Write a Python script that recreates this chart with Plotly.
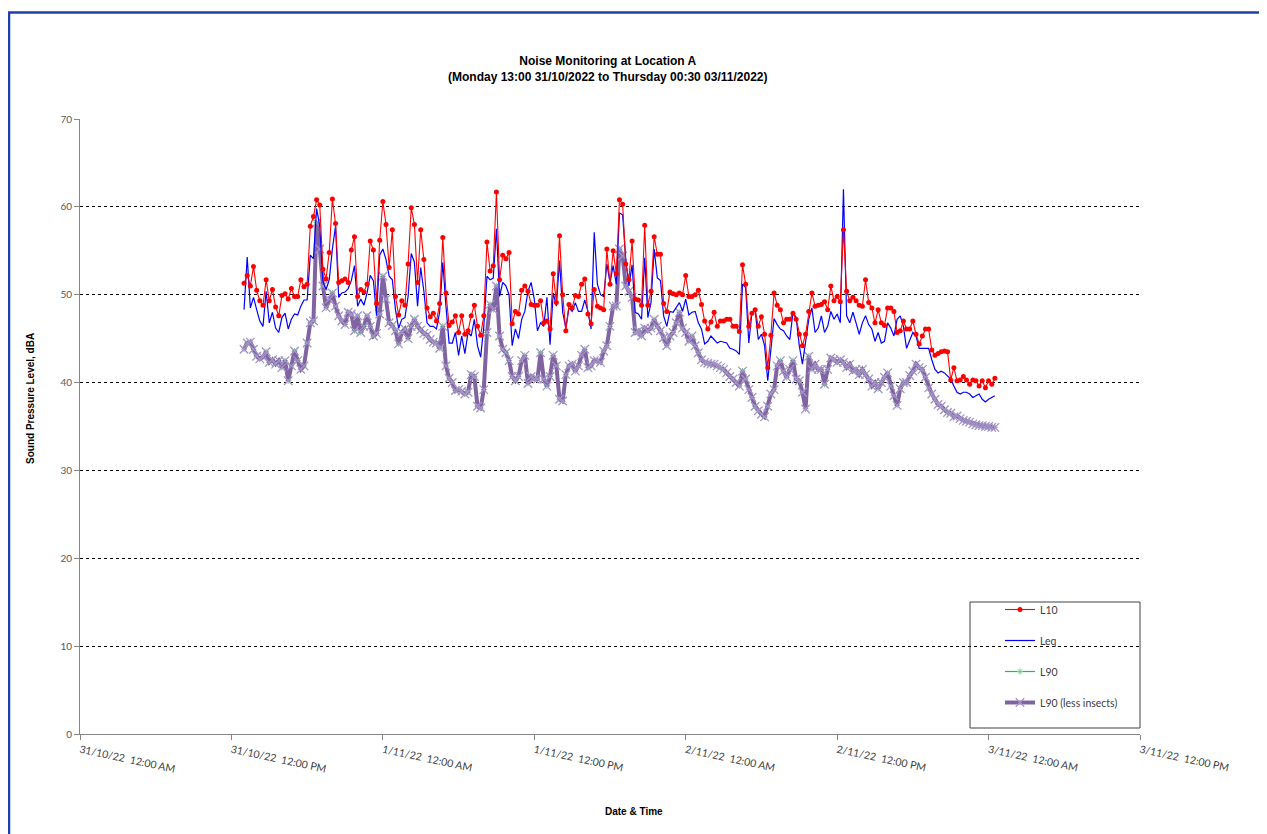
import pandas as pd
import plotly.graph_objects as go

# ---------------- data (15-minute intervals, 31/10/2022 13:00 -> 03/11/2022 00:30) ----------------
start_time = "2022-10-31 13:00"
interval = "15min"

L10 = [
    51.3, 52.2, 51.0, 53.2, 50.5, 49.3, 48.8, 51.7, 49.3, 50.6,
    48.6, 47.6, 49.9, 50.1, 49.5, 50.7, 49.8, 49.8, 51.7, 50.9,
    51.2, 57.8, 58.9, 60.8, 60.2, 52.9, 51.8, 54.8, 60.9, 58.1,
    51.4, 51.6, 51.8, 51.4, 55.1, 56.6, 49.8, 50.6, 50.3, 51.2,
    56.1, 55.1, 49.0, 56.2, 60.6, 58.0, 53.1, 57.4, 49.8, 47.7,
    49.3, 48.8, 53.5, 59.9, 58.0, 51.4, 57.4, 54.0, 48.5, 47.5,
    47.9, 47.0, 49.0, 56.5, 50.2, 46.5, 46.9, 47.6, 45.7, 47.6,
    45.5, 45.9, 47.6, 48.8, 46.4, 45.4, 47.6, 56.0, 52.7, 53.3,
    61.7, 51.7, 54.5, 54.1, 54.8, 46.7, 48.1, 47.8, 50.5, 51.0,
    50.4, 48.9, 48.8, 48.8, 49.3, 46.8, 47.0, 46.1, 52.4, 49.1,
    56.7, 50.0, 45.9, 48.9, 48.5, 49.9, 49.8, 51.2, 51.8, 47.8,
    46.7, 50.6, 48.7, 48.5, 48.3, 55.2, 51.2, 55.0, 52.4, 60.8,
    60.3, 53.5, 51.7, 56.1, 49.5, 49.4, 48.8, 57.9, 48.8, 50.4,
    56.6, 54.6, 54.6, 49.0, 48.1, 50.3, 50.1, 50.0, 50.2, 50.0,
    52.2, 49.8, 49.8, 50.0, 50.5, 48.9, 47.0, 46.1, 46.9, 48.0,
    46.4, 47.0, 47.0, 47.2, 47.2, 46.4, 46.4, 45.8, 53.4, 51.2,
    46.4, 47.9, 48.3, 46.4, 47.5, 45.5, 41.7, 45.4, 50.2, 48.8,
    48.3, 46.8, 47.2, 47.2, 47.9, 47.2, 45.5, 44.2, 45.5, 48.1,
    50.2, 48.7, 48.8, 48.9, 49.2, 48.3, 51.0, 49.3, 49.8, 49.2,
    57.4, 50.4, 49.3, 49.7, 49.3, 48.8, 48.7, 51.7, 49.1, 48.5,
    46.8, 48.3, 46.8, 46.5, 48.5, 48.5, 48.1, 45.7, 45.9, 47.0,
    46.1, 46.1, 47.0, 45.5, 44.4, 45.3, 46.1, 46.1, 43.7, 43.1,
    43.3, 43.5, 43.6, 43.5, 40.3, 41.7, 40.2, 40.3, 40.7, 40.3,
    39.8, 40.3, 40.2, 39.6, 40.2, 39.4, 40.2, 39.8, 40.5,
]

Leq = [
    48.3, 54.3, 48.5, 49.7, 48.3, 47.0, 46.4, 50.4, 46.8, 48.0,
    46.2, 45.7, 47.4, 47.9, 46.1, 47.2, 47.8, 47.7, 48.7, 49.4,
    49.4, 54.5, 54.1, 59.8, 57.8, 51.5, 50.6, 51.7, 55.2, 57.8,
    49.7, 50.2, 50.3, 50.7, 51.6, 53.3, 48.7, 49.5, 48.8, 50.2,
    52.2, 51.6, 47.6, 54.5, 55.2, 54.0, 52.1, 51.7, 48.3, 46.2,
    47.2, 47.4, 49.8, 54.7, 53.7, 48.7, 53.1, 50.4, 46.8, 46.4,
    46.4, 46.1, 48.0, 53.7, 48.7, 44.5, 44.5, 45.7, 43.1, 45.3,
    43.3, 45.7, 45.3, 47.2, 44.2, 42.9, 46.4, 52.1, 51.7, 51.9,
    57.5, 49.8, 51.4, 51.0, 50.0, 44.2, 46.1, 45.0, 47.2, 48.1,
    50.4, 51.4, 49.5, 45.9, 46.8, 46.4, 49.7, 44.3, 50.2, 48.7,
    53.9, 48.0, 46.2, 48.5, 48.1, 49.1, 48.1, 48.1, 49.4, 48.1,
    46.1, 57.1, 51.2, 50.0, 49.8, 53.5, 51.4, 53.3, 51.2, 59.3,
    59.1, 54.0, 51.0, 53.4, 48.0, 47.8, 47.2, 54.2, 47.4, 49.1,
    55.2, 51.9, 51.6, 47.6, 46.4, 48.1, 48.0, 48.5, 49.1, 48.1,
    49.5, 47.7, 48.0, 48.1, 46.8, 46.1, 44.4, 44.7, 45.3, 44.9,
    44.5, 44.7, 44.6, 44.5, 43.9, 43.8, 43.6, 43.2, 51.2, 50.8,
    44.5, 48.0, 48.3, 44.9, 45.5, 44.2, 40.2, 44.2, 47.3, 46.6,
    46.1, 45.9, 45.3, 44.9, 48.0, 47.4, 44.2, 42.1, 44.5, 47.2,
    48.5, 45.7, 46.2, 47.6, 45.7, 46.4, 48.1, 47.2, 47.8, 46.8,
    62.0, 47.6, 46.8, 48.0, 46.8, 45.5, 46.8, 47.6, 46.6, 46.1,
    44.7, 45.7, 44.5, 44.7, 46.8, 46.2, 45.3, 47.2, 47.6, 46.4,
    43.9, 44.9, 45.7, 45.3, 43.9, 43.9, 43.9, 43.9, 42.6, 41.5,
    41.1, 41.3, 41.1, 40.7, 40.4, 39.6, 38.9, 38.7, 38.9, 38.9,
    38.7, 38.3, 38.5, 38.7, 38.1, 37.8, 38.1, 38.3, 38.5,
]

L90_less_insects = [
    43.8, 44.5, 44.6, 43.8, 43.0, 42.7, 42.9, 43.5, 42.3, 42.6,
    42.1, 42.5, 41.7, 42.5, 40.2, 41.9, 43.6, 42.5, 41.5, 41.9,
    44.5, 46.8, 47.0, 58.2, 55.2, 51.0, 48.5, 49.5, 50.2, 48.7,
    47.6, 47.0, 46.6, 48.0, 47.8, 45.9, 47.6, 45.7, 46.4, 47.6,
    46.4, 45.3, 45.6, 47.8, 52.1, 49.5, 46.8, 46.5, 45.9, 44.4,
    45.7, 46.1, 45.0, 46.4, 47.2, 46.4, 46.0, 45.6, 45.4, 44.9,
    44.6, 44.5, 43.9, 46.4, 41.9, 40.5, 40.0, 39.1, 39.2, 39.0,
    38.7, 38.9, 40.9, 40.7, 37.3, 37.1, 39.2, 45.7, 48.9, 48.3,
    51.0, 45.3, 43.8, 43.4, 42.5, 40.7, 40.2, 40.7, 42.5, 43.1,
    39.9, 40.7, 40.4, 40.4, 43.4, 40.4, 39.6, 40.7, 43.1, 41.9,
    38.1, 37.9, 40.9, 41.9, 42.1, 41.3, 41.9, 43.1, 43.8, 41.7,
    41.9, 42.5, 42.5, 42.3, 43.6, 44.2, 46.4, 48.7, 48.7, 55.2,
    54.4, 51.0, 50.4, 49.7, 45.7, 45.9, 45.3, 46.2, 45.9, 46.2,
    47.2, 46.4, 45.9, 45.1, 44.2, 45.3, 45.7, 46.8, 48.0, 46.2,
    45.7, 44.7, 45.3, 44.2, 43.4, 42.6, 42.3, 42.2, 42.1, 42.1,
    41.9, 41.7, 41.5, 41.1, 40.7, 40.4, 40.0, 39.6, 41.3, 40.4,
    39.2, 38.3, 37.3, 36.8, 36.4, 36.1, 37.3, 38.7, 39.2, 41.9,
    42.5, 41.3, 40.6, 41.5, 42.5, 40.4, 40.2, 38.9, 37.0, 43.0,
    41.5, 42.1, 41.5, 41.5, 39.8, 41.5, 42.8, 42.6, 42.3, 42.6,
    42.3, 41.7, 42.1, 41.3, 41.5, 40.9, 41.5, 40.9, 40.4, 39.6,
    40.0, 39.3, 40.0, 40.6, 41.1, 39.6, 38.5, 37.4, 39.3, 40.0,
    40.0, 40.8, 41.3, 42.1, 41.7, 41.5, 40.6, 39.4, 38.7, 38.1,
    37.5, 37.3, 36.9, 36.6, 36.5, 36.1, 36.2, 35.9, 35.7, 35.6,
    35.5, 35.3, 35.2, 35.1, 35.1, 35.0, 35.0, 34.9, 34.9,
]

# L90 (with insects) coincides with the "less insects" series over this period
L90 = list(L90_less_insects)

tick_times = [
    "2022-10-31 00:00", "2022-10-31 12:00", "2022-11-01 00:00", "2022-11-01 12:00",
    "2022-11-02 00:00", "2022-11-02 12:00", "2022-11-03 00:00", "2022-11-03 12:00",
]
tick_labels = [
    "31/10/22\u00a0 12:00 AM", "31/10/22\u00a0 12:00 PM", "1/11/22\u00a0 12:00 AM",
    "1/11/22\u00a0 12:00 PM", "2/11/22\u00a0 12:00 AM", "2/11/22\u00a0 12:00 PM",
    "3/11/22\u00a0 12:00 AM", "3/11/22\u00a0 12:00 PM",
]

title_text = "<b>Noise Monitoring at Location A</b><br><b>(Monday 13:00 31/10/2022 to Thursday 00:30 03/11/2022)</b>"
y_title = "<b>Sound Pressure Level, dBA</b>"
x_title = "<b>Date & Time</b>"

times = pd.date_range(start=start_time, periods=len(L10), freq=interval)

# ---------------- figure ----------------
fig = go.Figure()

fig.add_trace(go.Scatter(
    x=times, y=L90, name="L90", mode="lines+markers",
    line=dict(color="#2FB35A", width=1.2),
    marker=dict(symbol="asterisk", size=5, line=dict(color="#6FD08A", width=1)),
    legendgroup="g3", legendrank=3,
))
fig.add_trace(go.Scatter(
    x=times, y=L90_less_insects, name="L90 (less insects)", mode="lines+markers",
    line=dict(color="#8064A2", width=4),
    marker=dict(symbol="x-thin", size=8.5, line=dict(color="#A593C8", width=1.3)),
    legendgroup="g4", legendrank=4,
))
fig.add_trace(go.Scatter(
    x=times, y=Leq, name="Leq", mode="lines",
    line=dict(color="#0000FF", width=1.2),
    legendgroup="g2", legendrank=2,
))
fig.add_trace(go.Scatter(
    x=times, y=L10, name="L10", mode="lines+markers",
    line=dict(color="#FF0000", width=1.1),
    marker=dict(symbol="circle", size=5, color="#FF0000"),
    legendgroup="g1", legendrank=1,
))

# The page places the figure 8 px from the top-left corner (body margin),
# so target page coordinates are shifted by OFF.
OFF = 8
W, H = 1267, 834
L, T = 80 - OFF, 119 - OFF
pw, ph = 1060, 615
R, B = W - L - pw, H - T - ph

def px_x(x):
    return (x - OFF - L) / pw

def px_y(y):
    return (T + ph - (y - OFF)) / ph

fig.update_layout(
    width=W, height=H,
    margin=dict(l=L, r=R, t=T, b=B),
    paper_bgcolor="white", plot_bgcolor="white",
    font=dict(family="Lato, Liberation Sans, sans-serif", size=10, color="#404040"),
    showlegend=True,
    legend=dict(
        x=px_x(1000), y=px_y(595), xanchor="left", yanchor="top",
        bgcolor="rgba(0,0,0,0)", borderwidth=0,
        font=dict(family="Lato, sans-serif", size=10.5, color="#404040"),
        tracegroupgap=12, traceorder="grouped",
    ),
    xaxis=dict(
        type="date",
        range=["2022-10-31 00:00", "2022-11-03 12:00"],
        tickmode="array", tickvals=tick_times, ticktext=tick_labels,
        tickangle=12,
        tickfont=dict(family="Lato, sans-serif", size=10.5, color="#404040"),
        ticks="outside", ticklen=5, tickcolor="#868686",
        showline=True, linecolor="#868686", linewidth=1,
        showgrid=False, zeroline=False,
    ),
    yaxis=dict(
        range=[0, 70], dtick=10, tick0=0,
        tickfont=dict(family="Lato, sans-serif", size=10, color="#595959"),
        ticks="outside", ticklen=5, tickcolor="#868686",
        showline=True, linecolor="#868686", linewidth=1,
        showgrid=True, gridcolor="#000000", gridwidth=1, griddash="dot",
        zeroline=False,
    ),
    shapes=[
        # legend frame
        dict(type="rect", xref="paper", yref="paper",
             x0=px_x(970), x1=px_x(1140), y0=px_y(728), y1=px_y(602),
             line=dict(color="#404040", width=1), fillcolor="white", layer="below"),
        # outer chart border
        dict(type="rect", xref="paper", yref="paper",
             x0=px_x(9), x1=px_x(1300), y0=px_y(900), y1=px_y(12.5),
             line=dict(color="#1E40AA", width=2.5), layer="above"),
    ],
    annotations=[
        dict(text=title_text, xref="paper", yref="paper", x=px_x(608), y=px_y(52),
             xanchor="center", yanchor="top", showarrow=False,
             font=dict(family="Liberation Sans, Arial, sans-serif", size=12, color="#000000")),
        dict(text=y_title, xref="paper", yref="paper", x=px_x(30), y=px_y(398),
             xanchor="center", yanchor="middle", textangle=-90, showarrow=False,
             font=dict(family="Liberation Sans, Arial, sans-serif", size=10, color="#000000")),
        dict(text=x_title, xref="paper", yref="paper", x=px_x(634), y=px_y(811),
             xanchor="center", yanchor="middle", showarrow=False,
             font=dict(family="Liberation Sans, Arial, sans-serif", size=10, color="#000000")),
    ],
)

fig.write_html("out.html")
